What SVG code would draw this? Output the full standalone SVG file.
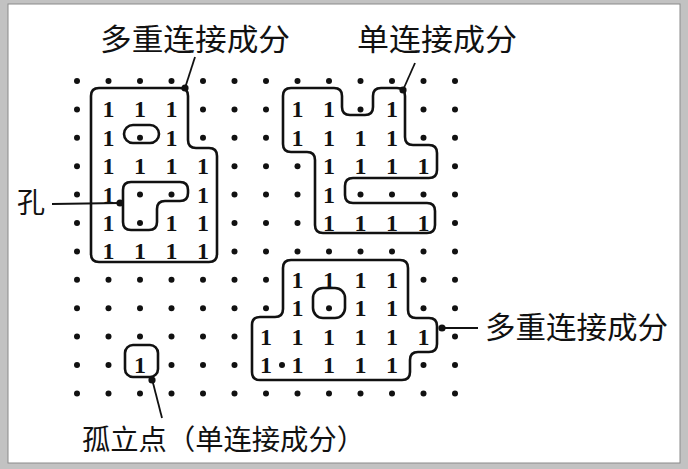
<svg xmlns="http://www.w3.org/2000/svg" xmlns:xlink="http://www.w3.org/1999/xlink" width="688" height="469" viewBox="0 0 688 469">
<style>
.one{font-family:"Liberation Serif",serif;font-weight:bold;font-size:24px;text-anchor:middle;fill:#111}
.lab{font-family:"Noto Sans CJK SC",sans-serif;fill:#111}
.c{fill:none;stroke:#111;stroke-width:2.6;stroke-linejoin:round}
.ld{fill:none;stroke:#111;stroke-width:1.8}
</style>
<defs>
<circle id="dot" r="3" fill="#111"/>
<circle id="jd" r="3.6" fill="#111"/>
</defs>
<rect x="0" y="0" width="688" height="469" fill="#c2c2c2"/>
<rect x="8" y="4" width="672" height="459" fill="#fff" stroke="#8a8a8a" stroke-width="1"/>

<g id="grid-dots">
<use href="#dot" x="77" y="81"/><use href="#dot" x="108.5" y="81"/><use href="#dot" x="140" y="81"/><use href="#dot" x="171.5" y="81"/><use href="#dot" x="203" y="81"/><use href="#dot" x="234.5" y="81"/><use href="#dot" x="266" y="81"/><use href="#dot" x="297.5" y="81"/><use href="#dot" x="329" y="81"/><use href="#dot" x="360.5" y="81"/><use href="#dot" x="392" y="81"/><use href="#dot" x="423.5" y="81"/><use href="#dot" x="455" y="81"/>
<use href="#dot" x="77" y="109.4"/><use href="#dot" x="203" y="109.4"/><use href="#dot" x="234.5" y="109.4"/><use href="#dot" x="266" y="109.4"/><use href="#dot" x="360.5" y="109.4"/><use href="#dot" x="423.5" y="109.4"/><use href="#dot" x="455" y="109.4"/>
<use href="#dot" x="77" y="137.8"/><use href="#dot" x="140" y="137.8"/><use href="#dot" x="203" y="137.8"/><use href="#dot" x="234.5" y="137.8"/><use href="#dot" x="266" y="137.8"/><use href="#dot" x="423.5" y="137.8"/><use href="#dot" x="455" y="137.8"/>
<use href="#dot" x="77" y="166.2"/><use href="#dot" x="234.5" y="166.2"/><use href="#dot" x="266" y="166.2"/><use href="#dot" x="297.5" y="166.2"/><use href="#dot" x="455" y="166.2"/>
<use href="#dot" x="77" y="194.6"/><use href="#dot" x="140" y="194.6"/><use href="#dot" x="171.5" y="194.6"/><use href="#dot" x="234.5" y="194.6"/><use href="#dot" x="266" y="194.6"/><use href="#dot" x="297.5" y="194.6"/><use href="#dot" x="360.5" y="194.6"/><use href="#dot" x="392" y="194.6"/><use href="#dot" x="423.5" y="194.6"/><use href="#dot" x="455" y="194.6"/>
<use href="#dot" x="77" y="223"/><use href="#dot" x="140" y="223"/><use href="#dot" x="234.5" y="223"/><use href="#dot" x="266" y="223"/><use href="#dot" x="297.5" y="223"/><use href="#dot" x="455" y="223"/>
<use href="#dot" x="77" y="251.4"/><use href="#dot" x="234.5" y="251.4"/><use href="#dot" x="266" y="251.4"/><use href="#dot" x="297.5" y="251.4"/><use href="#dot" x="329" y="251.4"/><use href="#dot" x="360.5" y="251.4"/><use href="#dot" x="392" y="251.4"/><use href="#dot" x="423.5" y="251.4"/><use href="#dot" x="455" y="251.4"/>
<use href="#dot" x="77" y="279.8"/><use href="#dot" x="108.5" y="279.8"/><use href="#dot" x="140" y="279.8"/><use href="#dot" x="171.5" y="279.8"/><use href="#dot" x="203" y="279.8"/><use href="#dot" x="234.5" y="279.8"/><use href="#dot" x="266" y="279.8"/><use href="#dot" x="423.5" y="279.8"/><use href="#dot" x="455" y="279.8"/>
<use href="#dot" x="77" y="308.2"/><use href="#dot" x="108.5" y="308.2"/><use href="#dot" x="140" y="308.2"/><use href="#dot" x="171.5" y="308.2"/><use href="#dot" x="203" y="308.2"/><use href="#dot" x="234.5" y="308.2"/><use href="#dot" x="266" y="308.2"/><use href="#dot" x="329" y="308.2"/><use href="#dot" x="423.5" y="308.2"/><use href="#dot" x="455" y="308.2"/>
<use href="#dot" x="77" y="336.6"/><use href="#dot" x="108.5" y="336.6"/><use href="#dot" x="140" y="336.6"/><use href="#dot" x="171.5" y="336.6"/><use href="#dot" x="203" y="336.6"/><use href="#dot" x="234.5" y="336.6"/><use href="#dot" x="455" y="336.6"/>
<use href="#dot" x="77" y="365"/><use href="#dot" x="108.5" y="365"/><use href="#dot" x="171.5" y="365"/><use href="#dot" x="203" y="365"/><use href="#dot" x="234.5" y="365"/><use href="#dot" x="282" y="365"/><use href="#dot" x="423.5" y="365"/><use href="#dot" x="455" y="365"/>
<use href="#dot" x="77" y="393.4"/><use href="#dot" x="108.5" y="393.4"/><use href="#dot" x="140" y="393.4"/><use href="#dot" x="171.5" y="393.4"/><use href="#dot" x="203" y="393.4"/><use href="#dot" x="234.5" y="393.4"/><use href="#dot" x="266" y="393.4"/><use href="#dot" x="297.5" y="393.4"/><use href="#dot" x="329" y="393.4"/><use href="#dot" x="360.5" y="393.4"/><use href="#dot" x="392" y="393.4"/><use href="#dot" x="423.5" y="393.4"/><use href="#dot" x="455" y="393.4"/>
</g>

<g id="component-multi-1">
<path class="c" d="M99,88 H180 Q188,88 188,96 V140 Q188,148 196,148 H209 Q217,148 217,156 V254 Q217,262 209,262 H99 Q91,262 91,254 V96 Q91,88 99,88 Z"/>
<rect class="c" x="124" y="125" width="35" height="18" rx="9"/>
<path class="c" d="M131,182 H180 Q188,182 188,190 V193 Q188,201 180,201 H165 Q157,201 157,209 V222 Q157,230 149,230 H131 Q123,230 123,222 V190 Q123,182 131,182 Z"/>
<text class="one" x="108.5" y="117.4">1</text><text class="one" x="140" y="117.4">1</text><text class="one" x="171.5" y="117.4">1</text>
<text class="one" x="108.5" y="145.8">1</text><text class="one" x="171.5" y="145.8">1</text>
<text class="one" x="108.5" y="174.2">1</text><text class="one" x="140" y="174.2">1</text><text class="one" x="171.5" y="174.2">1</text><text class="one" x="203" y="174.2">1</text>
<text class="one" x="108.5" y="202.6">1</text><text class="one" x="203" y="202.6">1</text>
<text class="one" x="108.5" y="231">1</text><text class="one" x="171.5" y="231">1</text><text class="one" x="203" y="231">1</text>
<text class="one" x="108.5" y="259.4">1</text><text class="one" x="140" y="259.4">1</text><text class="one" x="171.5" y="259.4">1</text><text class="one" x="203" y="259.4">1</text>
</g>

<g id="component-single">
<path class="c" d="M291,88 H334 Q342,88 342,96 V107 Q342,115 350,115 H365 Q373,115 373,107 V96 Q373,88 381,88 H397 Q405,88 405,96 V137 Q405,145 413,145 H429 Q437,145 437,153 V170 Q437,178 429,178 H353 Q345,178 345,186 V195 Q345,203 353,203 H427 Q435,203 435,211 V225 Q435,233 427,233 H323 Q315,233 315,225 V160 Q315,152 307,152 H291 Q283,152 283,144 V96 Q283,88 291,88 Z"/>
<text class="one" x="297.5" y="117.4">1</text><text class="one" x="329" y="117.4">1</text><text class="one" x="392" y="117.4">1</text>
<text class="one" x="297.5" y="145.8">1</text><text class="one" x="329" y="145.8">1</text><text class="one" x="360.5" y="145.8">1</text><text class="one" x="392" y="145.8">1</text>
<text class="one" x="329" y="174.2">1</text><text class="one" x="360.5" y="174.2">1</text><text class="one" x="392" y="174.2">1</text><text class="one" x="423.5" y="174.2">1</text>
<text class="one" x="329" y="202.6">1</text>
<text class="one" x="329" y="231">1</text><text class="one" x="360.5" y="231">1</text><text class="one" x="392" y="231">1</text><text class="one" x="423.5" y="231">1</text>
</g>

<g id="component-multi-2">
<path class="c" d="M291,260 H400 Q408,260 408,268 V310 Q408,318 416,318 H429 Q437,318 437,326 V344 Q437,352 429,352 H418 Q410,352 410,360 V372 Q410,380 402,380 H260 Q252,380 252,372 V325 Q252,317 260,317 H275 Q283,317 283,309 V268 Q283,260 291,260 Z"/>
<rect class="c" x="313" y="288" width="32" height="30" rx="10"/>
<text class="one" x="297.5" y="287.8">1</text><text class="one" x="329" y="287.8">1</text><text class="one" x="360.5" y="287.8">1</text><text class="one" x="392" y="287.8">1</text>
<text class="one" x="297.5" y="316.2">1</text><text class="one" x="360.5" y="316.2">1</text><text class="one" x="392" y="316.2">1</text>
<text class="one" x="266" y="344.6">1</text><text class="one" x="297.5" y="344.6">1</text><text class="one" x="329" y="344.6">1</text><text class="one" x="360.5" y="344.6">1</text><text class="one" x="392" y="344.6">1</text><text class="one" x="423.5" y="344.6">1</text>
<text class="one" x="266" y="373">1</text><text class="one" x="297.5" y="373">1</text><text class="one" x="329" y="373">1</text><text class="one" x="360.5" y="373">1</text><text class="one" x="392" y="373">1</text>
</g>

<g id="component-isolated">
<rect class="c" x="125" y="345" width="33" height="32" rx="8"/>
<text class="one" x="140" y="373">1</text>
</g>

<g id="connectors">
<line class="ld" x1="195" y1="57" x2="185" y2="88"/><use href="#jd" x="185" y="88"/>
<line class="ld" x1="415" y1="63" x2="403" y2="90"/><use href="#jd" x="403" y="90"/>
<line class="ld" x1="52" y1="204" x2="120" y2="203"/><use href="#jd" x="120" y="203"/>
<line class="ld" x1="440" y1="328" x2="478" y2="328"/><use href="#jd" x="442" y="328"/>
<line class="ld" x1="152" y1="379" x2="162" y2="418"/><use href="#jd" x="152" y="380"/>
</g>

<g id="labels">
<text class="lab" x="100" y="50" font-size="30" textLength="190" lengthAdjust="spacingAndGlyphs">多重连接成分</text>
<text class="lab" x="357" y="50" font-size="30" textLength="160" lengthAdjust="spacingAndGlyphs">单连接成分</text>
<text class="lab" x="17" y="213" font-size="28">孔</text>
<text class="lab" x="485" y="338" font-size="30" textLength="183" lengthAdjust="spacingAndGlyphs">多重连接成分</text>
<text class="lab" x="82" y="450" font-size="28" textLength="283" lengthAdjust="spacingAndGlyphs">孤立点（单连接成分）</text>
</g>
</svg>
